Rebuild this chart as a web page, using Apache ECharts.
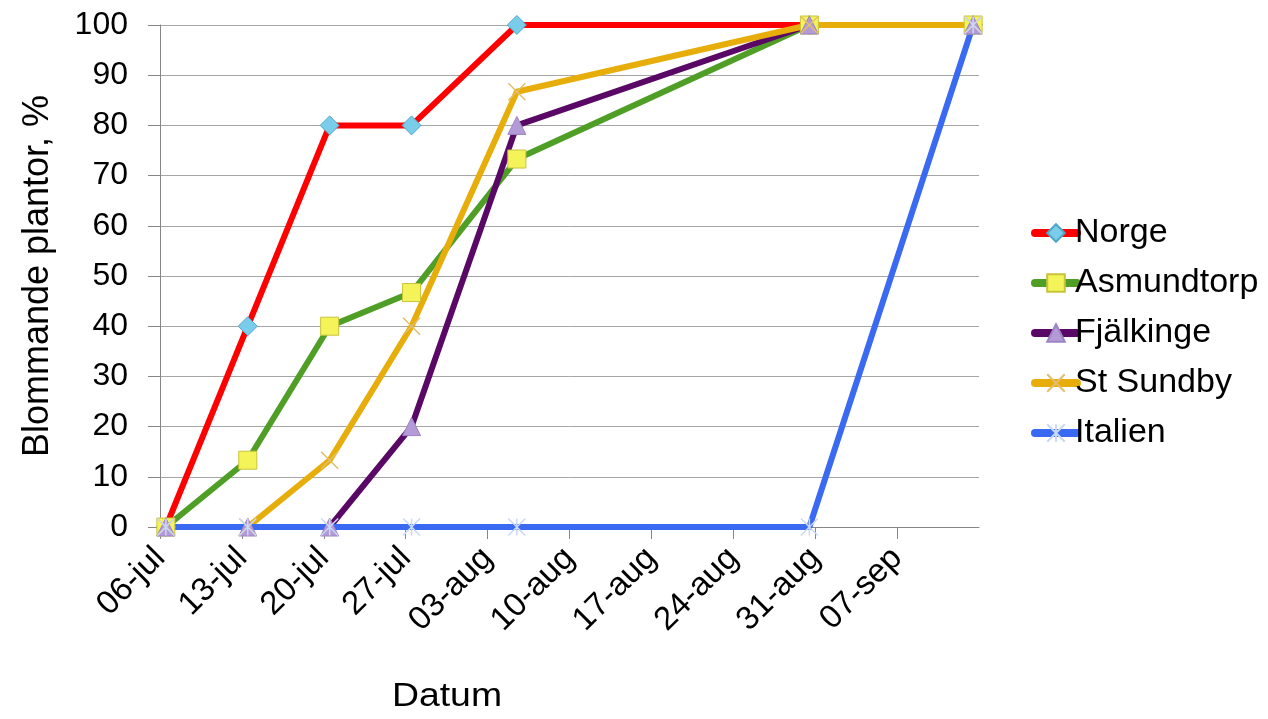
<!DOCTYPE html>
<html>
<head>
<meta charset="utf-8">
<script src="https://cdn.jsdelivr.net/npm/echarts@6/dist/echarts.min.js"></script>
<style>
html,body{margin:0;padding:0;background:#fff;}
#chart{width:1268px;height:719px;}
</style>
</head>
<body>
<div id="chart"></div>
<script>
// ---- data ----
const startDate = '2009-07-06';
const dates = ['2009-07-06','2009-07-13','2009-07-20','2009-07-27','2009-08-05','2009-08-30','2009-09-13'];
const norge      = [0, 40,   80, 80,   100,  100, 100];
const asmundtorp = [0, 13.3, 40, 46.7, 73.3, 100, 100];
const fjalkinge  = [0, 0,    0,  20,   80,   100, 100];
const stSundby   = [0, 0,    13.3, 40, 86.7, 100, 100];
const italien    = [0, 0,    0,  0,    0,    0,   100];
const xTickLabels = ['06-jul','13-jul','20-jul','27-jul','03-aug','10-aug','17-aug','24-aug','31-aug','07-sep'];
const yTicks = [0,10,20,30,40,50,60,70,80,90,100];

const FONT = '"Liberation Sans", Arial, sans-serif';
const DAY = 86400000;
function dayOffset(d){ return (Date.parse(d) - Date.parse(startDate)) / DAY; }
// Excel date axis places each point in the middle of its day
function pts(vals){ return dates.map((d,i)=>[dayOffset(d)+0.5, vals[i]]); }

function mk(name, vals, lineColor, symbol, itemStyle, size){
  return {
    name, type:'line', data: pts(vals),
    symbol, symbolSize: size,
    showSymbol: true,
    lineStyle:{color: lineColor, width: 6, cap:'round', join:'round'},
    itemStyle,
    emphasis:{disabled:true},
    animation:false
  };
}

const chart = echarts.init(document.getElementById('chart'));
chart.setOption({
  animation:false,
  grid:{left:160, right:289, top:25, bottom:192, containLabel:false},
  xAxis:{
    type:'value', min:0, max:70, interval:7,
    axisLine:{show:true, lineStyle:{color:'#868686', width:1}},
    axisTick:{show:true, length:12, lineStyle:{color:'#868686'}},
    splitLine:{show:false},
    axisLabel:{
      rotate:45, fontSize:33, fontFamily:FONT, color:'#000', margin:26,
      showMaxLabel:false,
      formatter:(v)=> xTickLabels[Math.round(v/7)] || ''
    }
  },
  yAxis:{
    type:'value', min:yTicks[0], max:yTicks[yTicks.length-1], interval:10,
    name:'Blommande plantor, %', nameLocation:'middle', nameGap:104,
    nameTextStyle:{fontSize:36, fontFamily:FONT, color:'#000'},
    axisLine:{show:true, lineStyle:{color:'#868686', width:1}},
    axisTick:{show:true, length:12, lineStyle:{color:'#868686'}},
    splitLine:{show:true, lineStyle:{color:'#A6A6A6', width:1}},
    axisLabel:{fontSize:32, fontFamily:FONT, color:'#000', margin:32}
  },
  legend:{
    orient:'vertical', left:1026, top:211,
    itemWidth:42, itemHeight:22, itemGap:16,
    lineStyle:{width:8, cap:'round'},
    textStyle:{fontSize:34, fontFamily:FONT, color:'#000', padding:[0,0,0,-7]},
    data:['Norge','Asmundtorp','Fjälkinge','St Sundby','Italien']
  },
  graphic:[{
    type:'text', x:447, y:697, scaleX:1.1,
    style:{text:'Datum', fontSize:34, fontFamily:FONT, fill:'#000', align:'center', verticalAlign:'middle'}
  }],
  series:[
    mk('Norge', norge, '#FF0000', 'diamond', {color:'#79CDEA', borderColor:'#4FA6C6', borderWidth:1}, 19),
    mk('Asmundtorp', asmundtorp, '#4F9E26', 'rect', {color:'#F4F45A', borderColor:'#C8C43A', borderWidth:1}, 18),
    mk('Fjälkinge', fjalkinge, '#5A0866', 'triangle', {color:'#B49AD6', borderColor:'#9C84C4', borderWidth:1}, 18),
    mk('St Sundby', stSundby, '#E7AE0B', 'path://M0,0 L10,10 M10,0 L0,10', {color:'rgba(0,0,0,0)', borderColor:'#E2BE6E', borderWidth:1.5}, 17),
    mk('Italien', italien, '#3A6AF2', 'path://M0,0 L10,10 M10,0 L0,10 M5,0 L5,10', {color:'rgba(0,0,0,0)', borderColor:'#C8D8F8', borderWidth:1.5}, 17)
  ]
});
</script>
</body>
</html>
